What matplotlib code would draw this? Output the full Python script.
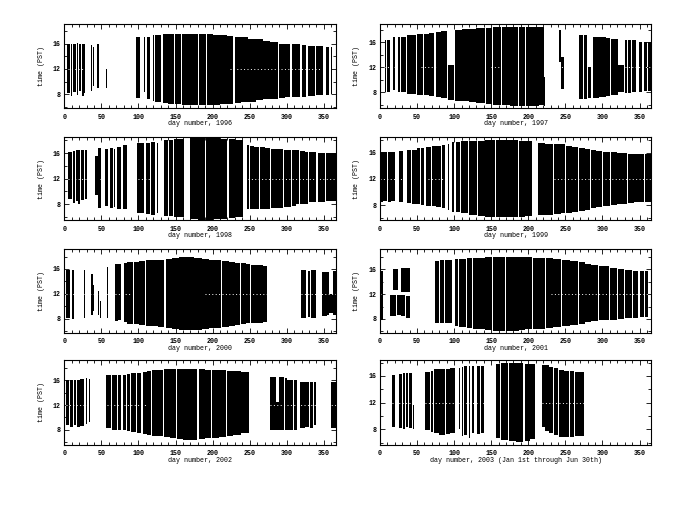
import numpy as np
import matplotlib
matplotlib.use("Agg")
import matplotlib.pyplot as plt
from matplotlib.ticker import MultipleLocator

# observing blocks per year: (first day, last day, start time, end time) in PST
obs_1996 = [(4, 7.5, 8.2, 16.0), (8.5, 11, 7.7, 15.9), (12, 16, 8.4, 16.0), (17, 19, 7.9, 16.1),
            (20, 23, 8.5, 15.9), (24, 26, 7.7, 16.0), (26.5, 28.5, 8.2, 15.9),
            (36, 38, 8.5, 15.8), (39, 40.5, 9.3, 15.4), (44, 47, 9.0, 16.0), (56.5, 58, 8.9, 12.0),
            (97, 102, 7.4, 17.1), (107, 109, 8.3, 17.0), (111.5, 116, 7.2, 17.1),
            (119, 121, 6.9, 17.4), (122.5, 131, 6.7, 17.4), (132.5, 140, 6.6, 17.5), (140, 147.5, 6.5, 17.5),
            (149, 157.5, 6.4, 17.5), (159, 168, 6.3, 17.5), (168, 180.5, 6.2, 17.5), (182, 191, 6.2, 17.5),
            (192.5, 200, 6.25, 17.5), (200, 210, 6.3, 17.45), (210, 219, 6.4, 17.4), (219, 227, 6.5, 17.2),
            (229.5, 238, 6.6, 17.1), (238, 248, 6.7, 17.0), (248, 258, 6.8, 16.8), (258, 268, 7.0, 16.7),
            (268, 278, 7.2, 16.5), (278, 288.5, 7.3, 16.3), (290, 297, 7.4, 15.9), (297, 304, 7.5, 15.9),
            (306.5, 318.5, 7.5, 15.9), (320, 326.5, 7.6, 15.8), (328, 337.5, 7.7, 15.7),
            (339, 349.5, 7.8, 15.6), (352.5, 357.5, 7.9, 15.5), (359, 361.5, 8.0, 15.5)]

obs_1997 = [(6.5, 8, 8.0, 16.4), (10, 13, 8.1, 16.4), (17, 20, 8.3, 16.8), (24.5, 27, 8.0, 16.9),
            (28, 35.5, 8.0, 16.9), (37, 49, 7.8, 17.1), (50.5, 58, 7.6, 17.3), (59.5, 66, 7.5, 17.4),
            (66, 73.5, 7.4, 17.5), (75, 82, 7.3, 17.6), (82, 91, 7.1, 17.75), (92, 100, 6.8, 12.3),
            (101, 110, 6.7, 18.0), (110, 120, 6.6, 18.1), (120, 130, 6.45, 18.2), (130, 141, 6.35, 18.3),
            (142.5, 150.5, 6.2, 18.35), (153, 163, 6.0, 18.4), (164.5, 175, 5.95, 18.45), (175, 186, 5.9, 18.5),
            (187.5, 195, 5.9, 18.5), (196.5, 205, 5.9, 18.5), (205, 214, 5.9, 18.5), (214, 221, 5.95, 18.4),
            (221, 223, 5.9, 10.5), (241, 244, 12.9, 18.0), (244.5, 248, 8.5, 13.6),
            (268, 274, 7.0, 17.2), (274.5, 279, 7.0, 17.1), (281, 284, 7.1, 12.0), (287.5, 295, 7.1, 16.9),
            (295, 305, 7.2, 16.8), (305, 310.5, 7.4, 16.7), (312, 321, 7.5, 16.6), (321, 329, 8.0, 12.3),
            (330, 333, 7.9, 16.4), (334.5, 338, 7.9, 16.4), (339.5, 345, 8.0, 16.3), (349, 354, 8.1, 16.1),
            (355.5, 360, 8.2, 16.1), (361.5, 366, 8.2, 16.0)]

obs_1998 = [(5, 10, 8.75, 16.1), (12, 14.5, 8.2, 16.3), (15.5, 18, 8.5, 16.4), (19, 21, 8.0, 16.4),
            (23, 27, 8.7, 16.5), (28, 30.5, 8.9, 16.5), (41, 45, 9.5, 15.6), (46, 50, 7.5, 16.8),
            (55, 59, 7.7, 16.6), (62, 66, 7.5, 16.8), (67, 69, 7.6, 16.6), (71, 77, 7.2, 17.0),
            (79.5, 84, 7.2, 17.2), (98, 108, 6.6, 17.6), (109.5, 116, 6.5, 17.6), (117, 122, 6.4, 17.65),
            (125.5, 127, 6.6, 17.6), (134, 140, 6.2, 18.0), (141, 146, 6.1, 18.1), (147.5, 154, 6.0, 18.2),
            (155, 161, 6.0, 18.2), (170, 180, 5.7, 18.3), (180, 190, 5.6, 18.3), (191.5, 200, 5.6, 18.3),
            (200, 210, 5.65, 18.3), (210, 220, 5.7, 18.25), (221.5, 230, 5.8, 18.2), (230, 241, 6.0, 18.1),
            (246, 249.5, 7.2, 17.2), (251, 256, 7.2, 17.1), (256, 263, 7.3, 17.0), (264.5, 270, 7.3, 16.9),
            (270, 277, 7.3, 16.8), (278.5, 286, 7.4, 16.7), (286, 295, 7.45, 16.6), (296.5, 306, 7.6, 16.5),
            (307.5, 313, 7.8, 16.45), (313, 317, 8.0, 16.4), (318.5, 325, 8.0, 16.3), (325, 329, 8.1, 16.2),
            (330.5, 340, 8.3, 16.1), (341.5, 351, 8.4, 16.05), (352.5, 358, 8.5, 16.0), (358, 366, 8.5, 16.0)]

obs_1999 = [(0, 4, 8.5, 16.2), (4.5, 10, 8.6, 16.2), (11, 15, 8.4, 16.1), (15.5, 20, 8.6, 16.2),
            (25, 28, 8.5, 16.3), (28.5, 31, 8.4, 16.3), (36, 42, 8.3, 16.5), (43, 50, 8.2, 16.5),
            (50, 53.5, 8.1, 16.7), (55, 60, 8.0, 16.8), (61.5, 69, 7.9, 16.9), (70.5, 76, 7.8, 17.0),
            (76, 82.5, 7.7, 17.1), (84, 88, 7.6, 17.25), (91.5, 93, 7.2, 17.4),
            (97, 100.5, 7.0, 17.7), (102, 107.5, 6.9, 17.75), (109, 118.5, 6.7, 17.8), (120, 130.5, 6.5, 17.85),
            (132, 142, 6.3, 17.9), (142, 154.5, 6.2, 18.0), (156, 166, 6.1, 18.0), (166, 176, 6.1, 18.0),
            (176, 186.5, 6.1, 17.95), (188, 196, 6.1, 17.9), (196, 205, 6.3, 17.8),
            (213.5, 222, 6.4, 17.5), (222, 233.5, 6.5, 17.45), (235, 244, 6.6, 17.35), (244, 249.5, 6.7, 17.3),
            (251, 259, 6.8, 17.1), (259, 267.5, 6.9, 16.9), (269, 276, 7.1, 16.75), (276, 283.5, 7.3, 16.6),
            (285, 291, 7.5, 16.4), (291, 299.5, 7.7, 16.3), (301, 310.5, 7.9, 16.2), (312, 320, 8.0, 16.1),
            (320, 332.5, 8.2, 16.0), (334, 343, 8.3, 15.9), (343, 355.5, 8.4, 15.9), (357, 365, 8.5, 15.9)]

obs_2000 = [(2, 8, 8.2, 15.8), (11, 13.5, 8.0, 15.8), (26, 28.5, 8.2, 15.8), (36, 38.5, 8.6, 15.2),
            (39, 40, 9.2, 13.5), (45.5, 47, 8.6, 12.5), (48.5, 50, 8.2, 10.8), (57, 59.5, 8.2, 16.3),
            (68, 72, 7.7, 16.8), (72, 77, 7.8, 16.8), (80, 84, 7.5, 16.9),
            (84, 92.5, 7.2, 17.1), (94, 101, 7.1, 17.2), (101, 108.5, 7.0, 17.3), (110, 120, 6.9, 17.4),
            (120, 127, 6.8, 17.45), (127, 135, 6.7, 17.5), (136.5, 145, 6.6, 17.6), (145, 155, 6.4, 17.7),
            (155, 165, 6.2, 17.85), (165, 175, 6.2, 17.9), (175, 185, 6.25, 17.8), (185, 195, 6.35, 17.65),
            (195, 204, 6.45, 17.5), (204, 211.5, 6.6, 17.4), (213, 222, 6.7, 17.3), (222, 230, 6.85, 17.15),
            (230, 236.5, 7.0, 17.0), (238, 245, 7.15, 16.9), (245, 250.5, 7.25, 16.8), (252, 260, 7.35, 16.7),
            (260, 268, 7.4, 16.6), (268, 273.5, 7.5, 16.5),
            (319, 326.5, 8.2, 15.8), (328, 331.5, 8.3, 15.7), (333, 339, 8.2, 15.8),
            (348, 354, 8.5, 15.5), (354.5, 357, 8.6, 15.5), (357, 362, 9.0, 12.0), (362, 366, 8.6, 15.6)]

obs_2001 = [(0, 3.5, 7.9, 15.8), (14, 22, 8.5, 11.8), (23, 28, 8.6, 11.8), (29, 34, 8.4, 11.8),
            (35, 40.5, 8.2, 11.7), (18, 24, 12.6, 16.0), (29, 40.5, 12.4, 16.2),
            (74, 80, 7.4, 17.4), (81, 86, 7.3, 17.5), (87.5, 96.5, 7.3, 17.6),
            (101, 105.5, 6.8, 17.7), (107, 116.5, 6.7, 17.75), (118, 123.5, 6.6, 17.8), (125, 133, 6.45, 17.9),
            (133, 141, 6.3, 17.9), (141, 150.5, 6.2, 17.95), (152, 160, 6.1, 18.0), (160, 168.5, 6.1, 18.0),
            (170, 178, 6.1, 18.0), (178, 187, 6.1, 18.0), (187, 196, 6.15, 18.0), (196, 204.5, 6.3, 18.0),
            (206, 214, 6.4, 17.9), (214, 222.5, 6.45, 17.85), (224, 234, 6.55, 17.8), (234, 244.5, 6.7, 17.7),
            (246, 256, 6.85, 17.55), (256, 267.5, 7.05, 17.35), (269, 277, 7.25, 17.15), (277, 285, 7.45, 16.95),
            (285, 294.5, 7.6, 16.8), (296, 308.5, 7.75, 16.55), (310, 319.5, 7.9, 16.25), (321, 328.5, 8.0, 16.05),
            (330, 339.5, 8.1, 15.9), (341, 348.5, 8.2, 15.8), (350, 356, 8.25, 15.75), (357, 362, 8.3, 15.7)]

obs_2002 = [(2, 6.5, 8.7, 16.0), (7.5, 11.5, 8.5, 16.0), (12.5, 16, 8.8, 16.1), (17, 20.5, 8.5, 16.1),
            (21.5, 26, 8.6, 16.2), (29.5, 31, 9.0, 16.4), (33.5, 35, 9.2, 16.3),
            (56, 63, 8.2, 16.9), (64, 70.5, 8.0, 16.9), (72, 77, 7.9, 16.9), (78.5, 83, 8.0, 16.9),
            (84.5, 89, 7.8, 17.0), (90.5, 96, 7.6, 17.2), (97.5, 104, 7.4, 17.2), (105.5, 111, 7.3, 17.3),
            (111, 117, 7.1, 17.6), (118.5, 126, 7.0, 17.7), (126, 133, 6.9, 17.75), (134.5, 142, 6.8, 17.8),
            (142, 151, 6.7, 17.8), (152.5, 160, 6.5, 17.8), (160, 168, 6.4, 17.8), (168, 178.5, 6.3, 17.8),
            (181, 190, 6.5, 17.8), (190, 198, 6.6, 17.75), (199.5, 208, 6.6, 17.7), (208, 218, 6.8, 17.65),
            (219.5, 228, 7.0, 17.6), (228, 238, 7.2, 17.5), (238, 249, 7.4, 17.4),
            (277, 285, 7.9, 16.6), (285, 290, 8.0, 12.5), (290, 296, 7.9, 16.5), (297.5, 300, 8.0, 16.4),
            (300, 308, 7.9, 16.1), (309.5, 314, 8.0, 16.1), (318, 324, 8.2, 15.8), (325, 330, 8.4, 15.8),
            (331.5, 336, 8.3, 15.8), (337, 340, 8.8, 15.8), (359, 366, 8.3, 15.8)]

obs_2003 = [(16, 20, 8.3, 16.15), (26, 30, 8.2, 16.3), (31, 34, 8.1, 16.4), (35, 38, 8.3, 16.4),
            (39, 43, 8.2, 16.45), (44, 46, 8.1, 11.65),
            (61, 67.5, 7.9, 16.65), (68.5, 71.5, 7.6, 16.8), (72.5, 79, 7.4, 17.0), (79, 87.5, 7.15, 17.05),
            (89, 95, 7.3, 17.1), (95, 101, 7.4, 17.15), (107, 108.5, 8.0, 17.2), (110, 111.5, 7.0, 17.4),
            (113, 118, 7.2, 17.5), (120.5, 122, 6.65, 17.5), (123.5, 127, 7.5, 17.5), (131, 135, 7.3, 17.5),
            (136, 140, 7.4, 17.5), (156, 161.5, 6.65, 17.8), (163, 172, 6.4, 17.9), (174, 183, 6.2, 17.9),
            (183, 193.5, 6.15, 17.9), (195, 203, 6.3, 17.85), (203, 209, 6.5, 17.8),
            (218, 222, 8.4, 17.6), (222, 228, 7.8, 17.6), (228, 233.5, 7.4, 17.4), (235, 240, 7.1, 17.2),
            (241, 248, 6.8, 16.9), (248, 255, 6.8, 16.8), (256.5, 262, 6.9, 16.7), (263.5, 268, 7.0, 16.65),
            (268, 275, 7.0, 16.6)]

# day ranges where the noon break shows as a white dotted line
noon_1996 = [(5, 28), (224, 345)]
noon_1997 = [(5, 20), (55, 75), (150, 160), (240, 250), (330, 366)]
noon_1998 = [(5, 30), (48, 55), (100, 115), (248, 366)]
noon_1999 = [(0, 30), (65, 90), (235, 366)]
noon_2000 = [(2, 60), (68, 90), (190, 273), (319, 366)]
noon_2001 = [(0, 4), (230, 362)]
noon_2002 = [(2, 30), (57, 110), (277, 366)]
noon_2003 = [(16, 46), (61, 140), (218, 275)]

xlabels = ["day number, 1996", "day number, 1997", "day number, 1998", "day number, 1999",
           "day number, 2000", "day number, 2001", "day number, 2002",
           "day number, 2003 (Jan 1st through Jun 30th)"]
ylims = [(5.8, 19.2), (5.5, 19.0), (5.55, 18.5), (5.7, 18.45),
         (5.8, 19.2), (5.8, 19.3), (5.6, 19.3), (5.7, 18.4)]

panels = [obs_1996, obs_1997, obs_1998, obs_1999, obs_2000, obs_2001, obs_2002, obs_2003]
noons = [noon_1996, noon_1997, noon_1998, noon_1999, noon_2000, noon_2001, noon_2002, noon_2003]

plt.rcParams['font.family'] = 'Liberation Mono'
plt.rcParams['font.weight'] = 'bold'
plt.rcParams['font.size'] = 4.8

fig = plt.figure(figsize=(6.85, 5.3), dpi=100)

col_x = [0.0939, 0.5547]
row_y = [0.7962, 0.5849, 0.3726, 0.1613]
row_h = [0.1594, 0.1566, 0.1575, 0.1594]

for i, segs in enumerate(panels):
    r, c = i // 2, i % 2
    ax = fig.add_axes([col_x[c], row_y[r], 0.3962, row_h[r]])
    seg = np.array(segs, dtype=float)
    ax.bar(seg[:, 0], seg[:, 3] - seg[:, 2], width=seg[:, 1] - seg[:, 0], bottom=seg[:, 2],
           align='edge', color='black', linewidth=0, antialiased=False)
    for a, b in noons[i]:
        ax.hlines(12, a, b, colors='white', linewidth=0.7, linestyles=(0, (1, 2.5)))
    ax.set_xlim(0, 366)
    ax.set_ylim(*ylims[i])
    ax.xaxis.set_major_locator(MultipleLocator(50))
    ax.xaxis.set_minor_locator(MultipleLocator(10))
    ax.yaxis.set_major_locator(MultipleLocator(4))
    ax.yaxis.set_minor_locator(MultipleLocator(2))
    ax.tick_params(which='both', direction='in', top=True, right=True, width=0.6)
    ax.tick_params(which='major', length=3.5)
    ax.tick_params(which='minor', length=2)
    ax.tick_params(axis='x', pad=4)
    ax.tick_params(axis='y', pad=2.5)
    for s in ax.spines.values():
        s.set_linewidth(0.8)
    ax.set_xlabel(xlabels[i])
    ax.xaxis.set_label_coords(0.5, -0.145)
    if i < 7:
        ax.set_ylabel("time (PST)")
        ax.yaxis.set_label_coords(-0.073, 0.5)

fig.savefig("out.png", dpi=100)
